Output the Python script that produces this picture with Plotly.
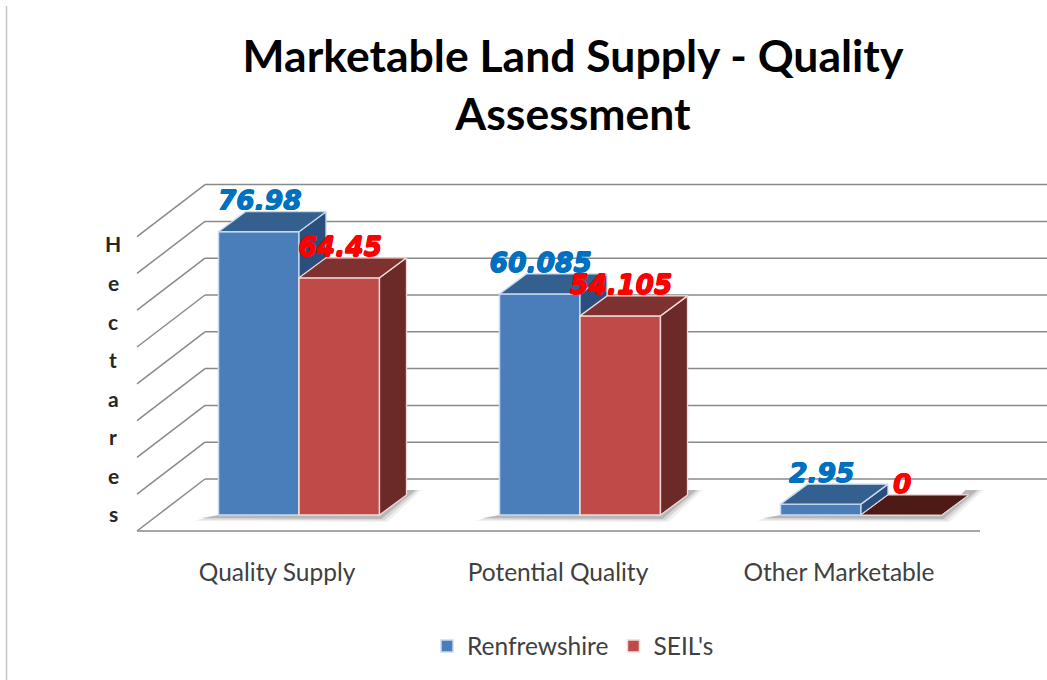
import plotly.graph_objects as go

# ---- data ----
categories = ["Quality Supply", "Potential Quality", "Other Marketable"]
renfrewshire = [76.98, 60.085, 2.95]
seils = [64.45, 54.105, 0]
renfrewshire_labels = ["76.98", "60.085", "2.95"]
seils_labels = ["64.45", "54.105", "0"]
grid_values = [0, 10, 20, 30, 40, 50, 60, 70, 80]
axis_letters = list("Hectares")

# ---- page geometry: scales of the cartesian plot ----
W, H = 1047, 680
PLOT_BOTTOM = 550
BASE_PX = 515            # pixel row of value 0 on the front of the bars
X0_PX = 299              # pixel column of the first category centre
PX_PER_CAT = 281.0
PX_PER_UNIT = 3.68


def dx(px):
    return px / PX_PER_CAT


def dy(px):
    return px / PX_PER_UNIT


BAR_W = dx(80.5)
DEPTH_X, DEPTH_Y = dx(27), dy(20)
LABEL_LIFT = dy(28.5)
x_range = [dx(-X0_PX), dx(W - X0_PX)]
y_range = [dy(BASE_PX - PLOT_BOTTOM), dy(BASE_PX)]


def box_faces(xs, vals, offset):
    """Return side and top polygons of the 3-D bars from the values."""
    sx, sy, tx, ty = [], [], [], []
    for x, v in zip(xs, vals):
        l, r = x + offset, x + offset + BAR_W
        sx += [r, r + DEPTH_X, r + DEPTH_X, r, r, None]
        sy += [0, DEPTH_Y, v + DEPTH_Y, v, 0, None]
        tx += [l, l + DEPTH_X, r + DEPTH_X, r, l, None]
        ty += [v, v + DEPTH_Y, v + DEPTH_Y, v, v, None]
    return sx, sy, tx, ty


def thick(color, r=0.6):
    return ", ".join(f"{a}px {b}px 0 {color}" for a, b in ((r, 0), (-r, 0), (0, r), (0, -r)))


xs = list(range(len(categories)))
fig = go.Figure()


def add_series(name, vals, offset, front, side, top, edge, ax):
    fig.add_trace(go.Bar(
        x=xs, y=vals, width=BAR_W, offset=offset, name=name,
        marker=dict(color=front, line=dict(color=edge, width=1.5)),
        xaxis="x" + ax, yaxis="y" + ax, hoverinfo="skip"))
    sx, sy, tx, ty = box_faces(xs, vals, offset)
    for px_, py_, col in ((sx, sy, side), (tx, ty, top)):
        fig.add_trace(go.Scatter(
            x=px_, y=py_, mode="lines", fill="toself", fillcolor=col,
            line=dict(color=edge, width=1.3), showlegend=False,
            xaxis="x" + ax, yaxis="y" + ax, hoverinfo="skip"))


add_series("Renfrewshire", renfrewshire, -BAR_W, "#4A7EBB", "#2B4F7C", "#33608F", "#C9DAF0", "")
add_series("SEIL's", seils, 0, "#BE4B48", "#6B2A27", "#7E3230", "#F3DAD8", "2")

# the zero-height box shows a much darker floor patch
zero_x, zero_y = [], []
for x, v in zip(xs, seils):
    if v == 0:
        zero_x += [x, x + DEPTH_X, x + BAR_W + DEPTH_X, x + BAR_W, x, None]
        zero_y += [0, DEPTH_Y, DEPTH_Y, 0, 0, None]
fig.add_trace(go.Scatter(x=zero_x, y=zero_y, mode="lines", fill="toself", fillcolor="#4E1A16",
                         line=dict(color="#E8D5D2", width=1), showlegend=False,
                         xaxis="x2", yaxis="y2", hoverinfo="skip"))

# data labels
fig.add_trace(go.Scatter(
    x=[x - BAR_W / 2 + dx(1) for x in xs], y=[v + LABEL_LIFT for v in renfrewshire],
    mode="text", text=renfrewshire_labels, showlegend=False, xaxis="x2", yaxis="y2",
    textposition="middle center", hoverinfo="skip",
    textfont=dict(family="DejaVu Sans", size=26.5, color="#0070C0", weight="bold", style="italic",
                  shadow=thick("#0070C0"))))
fig.add_trace(go.Scatter(
    x=[x + BAR_W / 2 + dx(1) for x in xs], y=[v + LABEL_LIFT for v in seils],
    mode="text", text=seils_labels, showlegend=False, xaxis="x2", yaxis="y2",
    textposition="middle center", hoverinfo="skip",
    textfont=dict(family="DejaVu Sans", size=26.5, color="#FF0000", weight="bold", style="italic",
                  shadow=thick("#FF0000"))))

# ---- walls and floor, under the traces ----
BACK_X = dx(205 - X0_PX)
WALL_DX, WALL_DY = dx(-68), dy(-52)
BACK_LIFT = dy(36)
shapes = []
line = dict(color="#8A8A8A", width=1.5)
for g in grid_values:
    y = g + BACK_LIFT
    shapes.append(dict(type="line", xref="x", yref="y", x0=BACK_X, x1=x_range[1], y0=y, y1=y,
                       line=line, layer="below"))
    shapes.append(dict(type="line", xref="x", yref="y", x0=BACK_X, x1=BACK_X + WALL_DX,
                       y0=y, y1=y + WALL_DY, line=line, layer="below"))
shapes.append(dict(type="line", xref="x", yref="y", x0=BACK_X + WALL_DX, x1=dx(980 - X0_PX),
                   y0=BACK_LIFT + WALL_DY, y1=BACK_LIFT + WALL_DY, line=line, layer="below"))

# soft floor shadow beneath each pair of bars
for x in xs:
    left, right = x - BAR_W, x + BAR_W
    for grow, alpha in ((6, 0.08), (3, 0.14), (0, 0.22)):
        pts = [(left + dx(-18 - grow), dy(-3 - grow * .5)), (right + dx(2 + grow), dy(-4 - grow * .5)),
               (right + dx(36 + grow), dy(25)), (right + dx(24), dy(25)), (right, 0), (left, 0)]
        path = "M " + " L ".join(f"{a},{b}" for a, b in pts) + " Z"
        shapes.append(dict(type="path", xref="x", yref="y", path=path, layer="below",
                           fillcolor=f"rgba(70,70,70,{alpha})", line=dict(width=0)))

# page frame line on the left
shapes.append(dict(type="line", xref="paper", yref="paper", x0=6.5 / W, x1=6.5 / W,
                   y0=(H - PLOT_BOTTOM) / -(PLOT_BOTTOM), y1=1 - 6 / PLOT_BOTTOM,
                   line=dict(color="#C4C4C4", width=1.5), layer="below"))

# stacked axis title, one letter per line
letter_rows = [243, 282, 321, 359, 398, 436, 475, 513]
annotations = [dict(text=c, xref="paper", yref="paper", x=113 / W,
                    y=1 - r / PLOT_BOTTOM, xanchor="center", yanchor="middle", showarrow=False,
                    font=dict(family="Lato", size=21, color="#262626", weight="bold"))
               for c, r in zip(axis_letters, letter_rows)]

fig.update_layout(
    width=W, height=H, autosize=False, barmode="overlay",
    margin=dict(l=0, r=0, t=0, b=H - PLOT_BOTTOM),
    paper_bgcolor="white", plot_bgcolor="rgba(0,0,0,0)",
    title=dict(text="Marketable Land Supply - Quality<br>Assessment", x=573 / W, xanchor="center",
               y=1 - 72 / H, yanchor="top",
               font=dict(family="Lato", size=44.5, color="#000000", weight="bold")),
    xaxis=dict(range=x_range, tickmode="array", tickvals=[x - dx(22) for x in xs], ticktext=categories,
               showgrid=False, zeroline=False, showline=False, ticks="", ticklabelstandoff=5,
               tickfont=dict(family="Lato", size=24.5, color="#404040")),
    yaxis=dict(range=y_range, showgrid=False, zeroline=False, showticklabels=False, ticks=""),
    xaxis2=dict(overlaying="x", matches="x", visible=False),
    yaxis2=dict(overlaying="y", matches="y", visible=False),
    legend=dict(orientation="h", x=573 / W, xanchor="center", y=-(646 - PLOT_BOTTOM) / PLOT_BOTTOM,
                yanchor="middle", font=dict(family="Lato", size=24.5, color="#404040"),
                bgcolor="rgba(0,0,0,0)", itemwidth=30),
    shapes=shapes, annotations=annotations, showlegend=True,
)
fig.write_html("out.html", post_script="document.body.style.margin='0';",
               config=dict(displayModeBar=False))
